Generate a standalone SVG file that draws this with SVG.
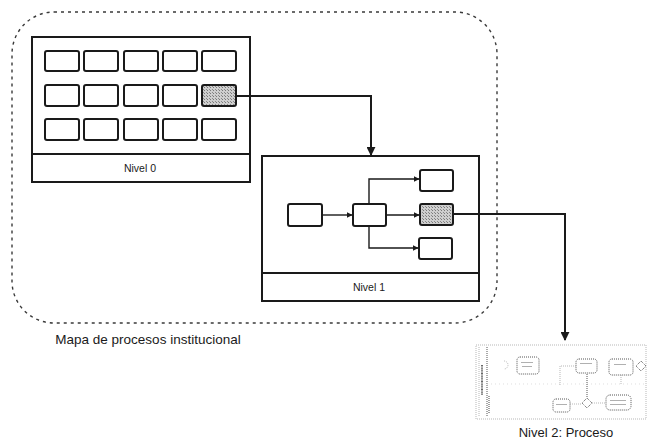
<svg xmlns="http://www.w3.org/2000/svg" width="647" height="440" viewBox="0 0 647 440">
  <defs>
    <marker id="arrow" viewBox="0 0 10 10" refX="9" refY="5" markerWidth="6" markerHeight="6" orient="auto" markerUnits="userSpaceOnUse">
      <path d="M0,0 L10,5 L0,10 z" fill="#1a1a1a"/>
    </marker>
    <marker id="arrowBig" viewBox="0 0 10 10" refX="9" refY="5" markerWidth="9" markerHeight="9" orient="auto" markerUnits="userSpaceOnUse">
      <path d="M0,0 L10,5 L0,10 z" fill="#1a1a1a"/>
    </marker>
    <pattern id="stipple" width="3" height="3" patternUnits="userSpaceOnUse">
      <rect width="3" height="3" fill="#cfcfcf"/>
      <rect width="1" height="1" fill="#7a7a7a"/>
      <rect x="2" y="2" width="1" height="1" fill="#8a8a8a"/>
    </pattern>
  </defs>
  <style>
    .frame { fill: none; stroke: #3a3a3a; stroke-width: 1.4; stroke-dasharray: 3 4; }
    .panel { fill: #ffffff; stroke: #1a1a1a; stroke-width: 2; }
    .cell { fill: #ffffff; stroke: #1a1a1a; stroke-width: 2; }
    .hot { fill: url(#stipple); stroke: #1a1a1a; stroke-width: 2; }
    .link { fill: none; stroke: #1a1a1a; stroke-width: 1.4; }
    .flow { fill: none; stroke: #1a1a1a; stroke-width: 2; }
    .lbl { font-family: "Liberation Sans", Arial, sans-serif; fill: #1a1a1a; text-anchor: middle; }
    .thumb { fill: none; stroke: #a5a5a5; stroke-width: 0.8; stroke-dasharray: 1 1; }
    .thumbDark { fill: none; stroke: #555; stroke-width: 1; stroke-dasharray: 1 1; }
    .tiny { fill: #b0b0b0; }
  </style>

  <!-- institutional process map boundary -->
  <g id="mapa">
    <rect class="frame" x="12" y="12" width="485" height="311" rx="42" ry="42"/>
    <text class="lbl" x="148" y="344" font-size="13.5">Mapa de procesos institucional</text>
  </g>

  <!-- level 0: grid of processes -->
  <g id="nivel0">
    <rect class="panel" x="32" y="37" width="218" height="145"/>
    <line class="panel" x1="32" y1="154" x2="250" y2="154"/>
    <text class="lbl" x="140" y="172" font-size="10.5">Nivel 0</text>
    <g>
      <rect class="cell" x="45" y="51" width="34" height="20" rx="2"/>
      <rect class="cell" x="84" y="51" width="34" height="20" rx="2"/>
      <rect class="cell" x="124" y="51" width="34" height="20" rx="2"/>
      <rect class="cell" x="163" y="51" width="34" height="20" rx="2"/>
      <rect class="cell" x="202" y="51" width="34" height="20" rx="2"/>
      <rect class="cell" x="45" y="85" width="34" height="21" rx="2"/>
      <rect class="cell" x="84" y="85" width="34" height="21" rx="2"/>
      <rect class="cell" x="124" y="85" width="34" height="21" rx="2"/>
      <rect class="cell" x="163" y="85" width="34" height="21" rx="2"/>
      <rect class="hot" x="202" y="85" width="34" height="21" rx="2"/>
      <rect class="cell" x="45" y="119" width="34" height="21" rx="2"/>
      <rect class="cell" x="84" y="119" width="34" height="21" rx="2"/>
      <rect class="cell" x="124" y="119" width="34" height="21" rx="2"/>
      <rect class="cell" x="163" y="119" width="34" height="21" rx="2"/>
      <rect class="cell" x="202" y="119" width="34" height="21" rx="2"/>
    </g>
  </g>

  <!-- level 1: process chain -->
  <g id="nivel1">
    <rect class="panel" x="262" y="156" width="217" height="145"/>
    <line class="panel" x1="262" y1="273" x2="479" y2="273"/>
    <text class="lbl" x="369" y="291" font-size="10.5">Nivel 1</text>
    <rect class="cell" x="288" y="204" width="34" height="22" rx="2"/>
    <rect class="cell" x="353" y="204" width="33" height="22" rx="2"/>
    <rect class="cell" x="420" y="170" width="33" height="21" rx="2"/>
    <rect class="hot" x="420" y="204" width="33" height="21" rx="2"/>
    <rect class="cell" x="419" y="238" width="33" height="21" rx="2"/>
  </g>

  <!-- level 2: process thumbnail -->
  <g id="nivel2">
    <rect class="thumb" x="476" y="345" width="170" height="74"/>
    <line class="thumb" x1="479" y1="347" x2="479" y2="417"/>
    <line class="thumbDark" x1="487" y1="347" x2="487" y2="417"/>
    <line x1="482" y1="365" x2="482" y2="395" stroke="#444" stroke-width="1.6" stroke-dasharray="1 0.6"/>
    <line x1="489" y1="396" x2="489" y2="414" stroke="#666" stroke-width="1.2" stroke-dasharray="1 1"/>
    <line x1="487" y1="384" x2="646" y2="384" stroke="#d0d0d0" stroke-width="0.7" stroke-dasharray="1 3"/>
    <path class="thumb" d="M504,361 a4,4 0 0 1 0,8"/>
    <rect class="thumbDark" x="517" y="357" width="22" height="17" rx="3"/>
    <rect class="tiny" x="521" y="362" width="12" height="1"/>
    <rect class="tiny" x="522" y="366" width="10" height="1"/>
    <rect class="thumbDark" x="576" y="359" width="21" height="14" rx="3"/>
    <rect class="tiny" x="580" y="363" width="12" height="1"/>
    <rect class="thumbDark" x="609" y="359" width="24" height="16" rx="3"/>
    <rect class="tiny" x="614" y="364" width="12" height="1"/>
    <path class="thumbDark" d="M641,361 l5,5 l-5,5 l-5,-5 z"/>
    <path class="thumb" d="M560,385 V366 H576"/>
    <line class="thumbDark" x1="587" y1="374" x2="587" y2="398"/>
    <path class="thumbDark" d="M587,398 l5,5 l-5,5 l-5,-5 z"/>
    <rect class="thumbDark" x="553" y="399" width="17" height="13" rx="3"/>
    <rect class="tiny" x="556" y="404" width="11" height="1"/>
    <rect class="thumbDark" x="606" y="395" width="25" height="15" rx="4"/>
    <rect class="tiny" x="610" y="400" width="16" height="1"/>
    <rect class="tiny" x="610" y="404" width="16" height="1"/>
    <line class="thumb" x1="570" y1="404" x2="582" y2="404"/>
    <line class="thumb" x1="592" y1="403" x2="606" y2="403"/>
    <line class="thumb" x1="621" y1="375" x2="621" y2="384"/>
    <text class="lbl" x="566" y="437" font-size="13">Nivel 2: Proceso</text>
  </g>

  <!-- connectors -->
  <g id="connectors">
    <path class="flow" d="M236,96 H371 V155" marker-end="url(#arrowBig)"/>
    <path class="flow" d="M453,214 H565 V340" marker-end="url(#arrowBig)"/>
    <path class="link" d="M322,215 H352" marker-end="url(#arrow)"/>
    <path class="link" d="M386,215 H419" marker-end="url(#arrow)"/>
    <path class="link" d="M369,204 V179 H419" marker-end="url(#arrow)"/>
    <path class="link" d="M369,226 V248 H418" marker-end="url(#arrow)"/>
  </g>
</svg>
